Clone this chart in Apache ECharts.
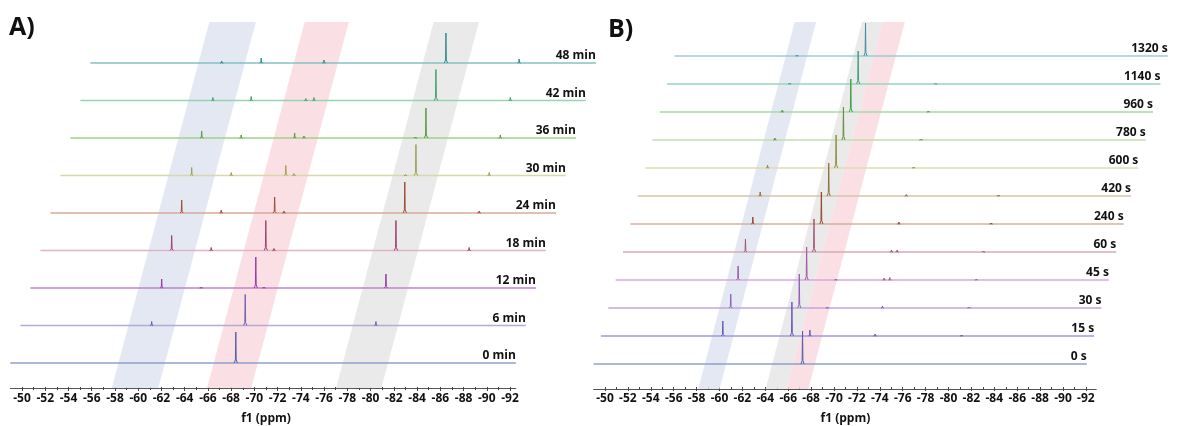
<!DOCTYPE html>
<html><head><meta charset="utf-8">
<script src="https://cdn.jsdelivr.net/npm/echarts@6/dist/echarts.min.js"></script>
<style>html,body{margin:0;padding:0;background:#fff}#c{width:1179px;height:426px}</style>
</head><body><div id="c"></div>
<script>
// ---------- Panel A (time in min) ----------
const timesA = ['0 min','6 min','12 min','18 min','24 min','30 min','36 min','42 min','48 min'];
// peaks per spectrum: [ppm, height]
const peaksA = [
  [[-68.4,31]],
  [[-60.3,4],[-68.35,31],[-79.6,4]],
  [[-60.3,9],[-63.7,1],[-68.4,31],[-69.1,1],[-79.6,14]],
  [[-60.3,15],[-63.7,3],[-68.4,30],[-69.1,2],[-79.6,30],[-85.9,3]],
  [[-60.3,13],[-63.7,3],[-68.3,16],[-69.1,2],[-79.5,31],[-85.9,2]],
  [[-60.3,8],[-63.7,3],[-68.4,10],[-69.1,2],[-78.7,1],[-79.6,31],[-85.9,3]],
  [[-60.3,7],[-63.7,3],[-68.3,5],[-69.1,2],[-78.7,1],[-79.6,30],[-86.0,3]],
  [[-60.4,3],[-63.7,4],[-68.4,2],[-69.1,3],[-79.6,31],[-86.0,3]],
  [[-60.3,2],[-63.7,5],[-69.1,3],[-79.6,30],[-85.9,4]]
];
const bandsA = [[-58.3,-62.3],[-66.5,-70.3],[-77.6,-81.5]];
const ticksA = [-50,-52,-54,-56,-58,-60,-62,-64,-66,-68,-70,-72,-74,-76,-78,-80,-82,-84,-86,-88,-90,-92];
const spanA = [-49,-92.5];

// ---------- Panel B (time in s) ----------
const timesB = ['0 s','15 s','30 s','45 s','60 s','240 s','420 s','600 s','780 s','960 s','1140 s','1320 s'];
const peaksB = [
  [[-67.6,33]],
  [[-59.85,15],[-66.0,34],[-67.6,6],[-73.4,2],[-81.1,1]],
  [[-59.9,14],[-66.0,34],[-68.5,1],[-73.4,2],[-81.1,1]],
  [[-59.9,14],[-66.0,33],[-68.6,1],[-72.9,2],[-73.4,2.5],[-81.1,1]],
  [[-59.9,13],[-66.0,33],[-72.9,2],[-73.4,2],[-81.1,1]],
  [[-59.9,7],[-66.0,32],[-72.9,2],[-81.1,1]],
  [[-59.9,4],[-66.0,33],[-72.9,1.5],[-81.1,1]],
  [[-59.9,3],[-66.0,33],[-72.9,1]],
  [[-59.9,2],[-66.0,33],[-72.9,1]],
  [[-59.9,2],[-66.0,33],[-72.9,1]],
  [[-59.9,1],[-66.0,33],[-72.9,0.5]],
  [[-59.9,1],[-66.0,33]]
];
const bandsB = [[-58.9,-60.8],[-64.9,-66.75],[-66.75,-68.7]];
const ticksB = ticksA.slice();
const spanB = [-49,-92.9];

// ---------- styles / layout ----------
const FONT = '"Open Sans", "DejaVu Sans", sans-serif';
const styleA = {
  layout: {x50:22, ppx:11.62, base0:363, dy:37.5, dx:10, axisY:388, bandTop:22},
  bandColors: ['rgba(222,228,240,0.85)','rgba(249,218,225,0.85)','rgba(232,232,232,0.9)'],
  baseColors: ['#8fa0cc','#b8a8d8','#c084c8','#e2b2c6','#d8aa9a','#d8d8aa','#a2d08a','#98d4b4','#82c2c2'],
  peakColors: ['#5060a8','#7060b0','#9838a8','#a04070','#a04a38','#a0a050','#5a9a40','#40a070','#308c8c']
};
const styleB = {
  layout: {x50:605, ppx:11.45, base0:364, dy:28, dx:7.5, axisY:389, bandTop:22},
  bandColors: ['rgba(222,228,240,0.85)','rgba(232,232,232,0.9)','rgba(249,218,225,0.85)'],
  baseColors: ['#8fa0cc','#a09ad8','#c2a6dc','#d6aadc','#d6a8b8','#d6b0a0','#d8c4a8','#dedcb0','#c4dcac','#a8d8a8','#98d4bc','#9cccd4'],
  peakColors: ['#5060a8','#6a58b8','#9060b8','#a058a8','#a05878','#904830','#907040','#909040','#609040','#40a040','#40a080','#4090a0']
};

const grids = [], xAxes = [], yAxes = [], series = [];

function addPanel(S, times, peaks, bands, ticks, span) {
  const L = S.layout;
  const px = p => L.x50 + (-50 - p) * L.ppx;
  const gi = grids.length;
  const n = times.length;
  const k = (L.dx / L.dy) / L.ppx;            // ppm shift per unit of height
  const shift = i => i * L.dx / L.ppx;         // ppm shift per spectrum row
  const traceMin = span[1] - shift(n - 1) - 1;
  // trace grid (hidden axes)
  grids.push({left: px(span[0]), width: (span[0] - traceMin) * L.ppx, top: 18, height: 370});
  xAxes.push({gridIndex: gi, type: 'value', min: traceMin, max: span[0], inverse: true, show: false});
  yAxes.push({gridIndex: gi, type: 'value', min: L.base0 - 388, max: L.base0 - 18, show: false});
  // axis line grid
  grids.push({left: px(span[0]), width: (span[0] - span[1]) * L.ppx, top: L.axisY - 40, height: 40});
  xAxes.push({gridIndex: gi + 1, type: 'value', min: span[1], max: span[0], inverse: true,
    axisLine: {show: true, onZero: false, lineStyle: {color: '#555', width: 1}},
    axisTick: {show: false}, axisLabel: {show: false}, splitLine: {show: false}});
  yAxes.push({gridIndex: gi + 1, type: 'value', show: false});
  // tick grid
  const tMax = ticks[0], tMin = ticks[ticks.length - 1];
  grids.push({left: px(tMax), width: (tMax - tMin) * L.ppx, top: L.axisY - 40, height: 40});
  xAxes.push({gridIndex: gi + 2, type: 'value', min: tMin, max: tMax, interval: ticks[0] - ticks[1], inverse: true,
    axisLine: {show: false, onZero: false},
    axisTick: {show: true, length: 4, lineStyle: {color: '#444'}},
    minorTick: {show: true, splitNumber: 2, length: 3, lineStyle: {color: '#444'}},
    axisLabel: {margin: 6, fontFamily: FONT, fontWeight: 'bold', fontSize: 12, color: '#111'},
    splitLine: {show: false}, minorSplitLine: {show: false},
    name: 'f1 (ppm)', nameLocation: 'middle', nameGap: 26,
    nameTextStyle: {fontFamily: FONT, fontWeight: 'bold', fontSize: 12, color: '#111'}});
  yAxes.push({gridIndex: gi + 2, type: 'value', show: false});

  const y0 = L.base0 - L.axisY, y1 = L.base0 - L.bandTop;
  // slanted bands
  series.push({type: 'custom', xAxisIndex: gi, yAxisIndex: gi, silent: true, z: 1,
    data: bands.map((b, i) => [b[0], b[1], i]),
    renderItem(params, api) {
      const p1 = api.value(0), p2 = api.value(1), i = api.value(2);
      const pts = [[p1 - y0 * k, y0], [p2 - y0 * k, y0], [p2 - y1 * k, y1], [p1 - y1 * k, y1]].map(q => api.coord(q));
      return {type: 'polygon', shape: {points: pts}, style: {fill: S.bandColors[i]}};
    }});
  // baselines
  series.push({type: 'custom', xAxisIndex: gi, yAxisIndex: gi, silent: true, z: 2,
    data: times.map((t, i) => [i]),
    renderItem(params, api) {
      const i = api.value(0), Y = i * L.dy, s = shift(i);
      const a = api.coord([span[0] - s, Y]), b = api.coord([span[1] - s, Y]);
      return {type: 'line', shape: {x1: a[0], y1: a[1], x2: b[0], y2: b[1]},
        style: {stroke: S.baseColors[i], lineWidth: 1.6}};
    }});
  // peaks
  const pk = [];
  peaks.forEach((row, i) => row.forEach(p => pk.push([i, p[0], p[1]])));
  series.push({type: 'custom', xAxisIndex: gi, yAxisIndex: gi, silent: true, z: 3,
    data: pk,
    renderItem(params, api) {
      const i = api.value(0), p = api.value(1) - shift(i), h = api.value(2), Y = i * L.dy;
      const w = 0.14, w2 = 0.035;
      const pts = [[p + w, Y], [p + w2, Y + 0.1 * h], [p, Y + h], [p - w2, Y + 0.1 * h], [p - w, Y]].map(q => api.coord(q));
      return {type: 'polyline', shape: {points: pts}, style: {stroke: S.peakColors[i], lineWidth: 1, fill: null}};
    }});
  // row labels
  series.push({type: 'custom', xAxisIndex: gi, yAxisIndex: gi, silent: true, z: 4,
    data: times.map((t, i) => [i]),
    renderItem(params, api) {
      const i = api.value(0), Y = i * L.dy;
      const a = api.coord([span[1] - shift(i), Y]);
      return {type: 'text', x: a[0], y: a[1] - 1,
        style: {text: times[i], align: 'right', verticalAlign: 'bottom',
          font: 'bold 12px ' + FONT, fill: '#111'}};
    }});
}

addPanel(styleA, timesA, peaksA, bandsA, ticksA, spanA);
addPanel(styleB, timesB, peaksB, bandsB, ticksB, spanB);

const chart = echarts.init(document.getElementById('c'), null, {renderer: 'canvas'});
chart.setOption({
  animation: false,
  backgroundColor: '#fff',
  title: [
    {text: 'A)', left: 9, top: 15, padding: 0, textStyle: {fontFamily: FONT, fontWeight: 'bold', fontSize: 25, color: '#111'}},
    {text: 'B)', left: 608, top: 17, padding: 0, textStyle: {fontFamily: FONT, fontWeight: 'bold', fontSize: 25, color: '#111'}}
  ],
  grid: grids, xAxis: xAxes, yAxis: yAxes, series: series
});
</script></body></html>
